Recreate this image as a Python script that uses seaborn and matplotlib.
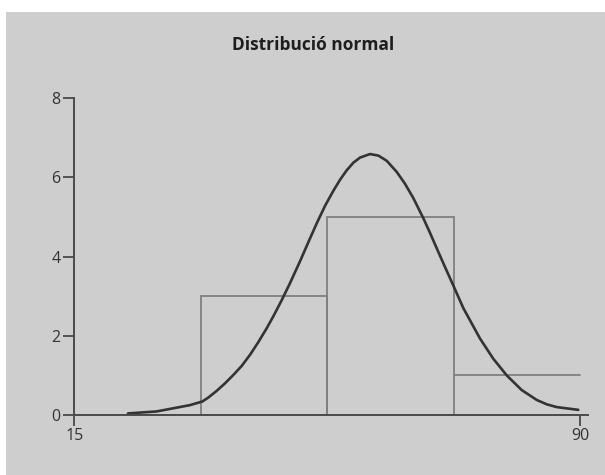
import numpy as np
import pandas as pd
import matplotlib
matplotlib.use("Agg")
import matplotlib.pyplot as plt
from matplotlib.patches import Rectangle
import seaborn as sns

# ---- data ----
bin_edges = [15, 33.75, 52.5, 71.25, 90]
bin_counts = [0, 3, 5, 1]

curve_x = [22.96, 27.22, 32.16, 33.98, 34.87, 36.12, 37.35, 38.58, 39.83, 41.06,
           42.29, 43.53, 44.51, 45.76, 46.99, 48.47, 49.70, 50.95, 52.18, 53.41,
           54.41, 55.40, 56.38, 57.37, 58.85, 60.10, 61.33, 62.81, 64.04, 65.27,
           66.76, 67.75, 68.98, 70.23, 71.21, 72.69, 75.17, 77.14, 79.13, 81.35,
           83.58, 85.06, 86.54, 89.74]
curve_y = [0.04, 0.09, 0.25, 0.34, 0.44, 0.61, 0.80, 1.01, 1.24, 1.52,
           1.84, 2.19, 2.49, 2.90, 3.33, 3.88, 4.36, 4.84, 5.28, 5.66,
           5.94, 6.18, 6.37, 6.50, 6.59, 6.55, 6.42, 6.14, 5.84, 5.48,
           4.97, 4.60, 4.12, 3.64, 3.27, 2.70, 1.93, 1.42, 1.00, 0.63,
           0.38, 0.27, 0.20, 0.13]

y_ticks = [0, 2, 4, 6, 8]
x_ticks = [15, 90]
title = "Distribució normal"

# ---- style ----
sns.set_theme(style="ticks")
plt.rcParams["font.family"] = ["Open Sans", "DejaVu Sans"]

BG = "#cecece"
AXC = "#4a4a4a"
BARC = "#808080"

fig = plt.figure(figsize=(6.05, 4.75), dpi=100, facecolor="white")
fig.patches.append(Rectangle((6 / 605, 0), 1, (475 - 12) / 475,
                             transform=fig.transFigure, facecolor=BG,
                             edgecolor="none", zorder=-10))

left = 74.3 / 605
bottom = 60 / 475
xr = 92.0
yr = 8.2
width = (xr - 15) * 6.743 / 605
height = yr * 39.6 / 475
ax = fig.add_axes([left, bottom, width, height])
ax.set_facecolor("none")

centers = [(a + b) / 2 for a, b in zip(bin_edges[:-1], bin_edges[1:])]
hist_df = pd.DataFrame({"x": centers, "w": bin_counts})
sns.histplot(data=hist_df, x="x", weights="w", bins=bin_edges, fill=False,
             color=BARC, edgecolor=BARC, linewidth=1.3, ax=ax)
# the last bar is open on its right side: draw only its top
ax.patches[-1].set_visible(False)
sns.lineplot(x=bin_edges[-2:], y=[bin_counts[-1]] * 2, color=BARC,
             linewidth=1.3, ax=ax)

curve_df = pd.DataFrame({"x": curve_x, "y": curve_y})
sns.lineplot(data=curve_df, x="x", y="y", sort=False, color="#333333",
             linewidth=1.9, ax=ax)

ax.set_xlim(15, xr)
ax.set_ylim(0, yr)
ax.set_xlabel("")
ax.set_ylabel("")
sns.despine(ax=ax, top=True, right=True)
ax.spines["left"].set_bounds(0, 8)
ax.spines["bottom"].set_bounds(15, 91.2)
for s in ("left", "bottom"):
    ax.spines[s].set_color(AXC)
    ax.spines[s].set_linewidth(1.4)

ax.set_yticks(y_ticks)
ax.set_yticklabels([str(v) for v in y_ticks])
ax.set_xticks(x_ticks)
ax.set_xticklabels([str(v) for v in x_ticks])
ax.tick_params(axis="y", direction="out", length=8, width=1.3, color=AXC,
               labelsize=11.5, labelcolor="#333333", pad=2)
ax.tick_params(axis="x", direction="out", length=8, width=1.3, color=AXC,
               labelsize=11.5, labelcolor="#333333", pad=1)

fig.text(313 / 605, 1 - 45 / 475, title, ha="center", va="center",
         fontsize=12.5, fontweight="bold", color="#1e1e1e")

fig.savefig("out.png", dpi=100, facecolor=fig.get_facecolor())
